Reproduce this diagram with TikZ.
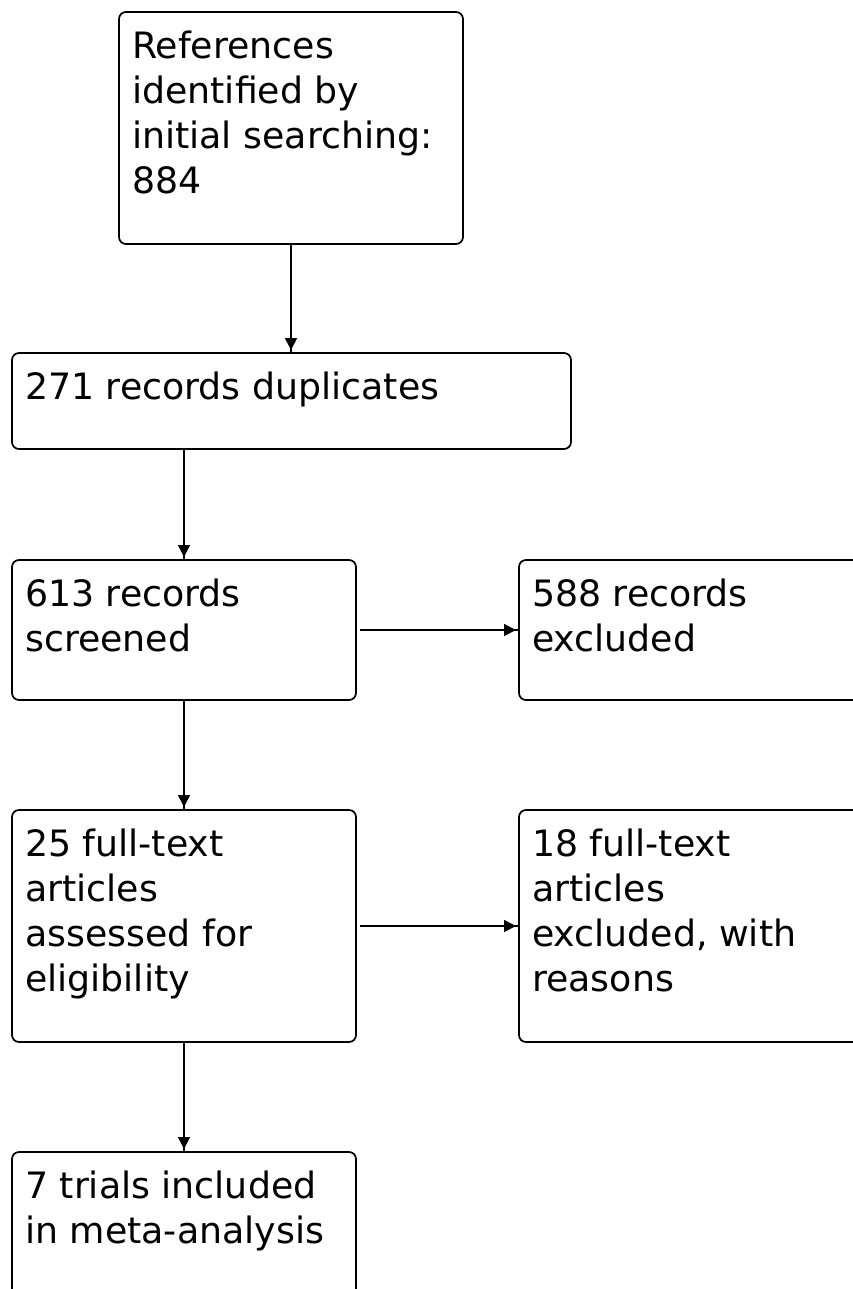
\documentclass[tikz,border=0pt]{standalone}
\usepackage{fontspec}
\setmainfont{DejaVu Sans}
\usetikzlibrary{arrows.meta}
\begin{document}
\begin{tikzpicture}[x=1pt,y=-1pt,
  box/.style={draw, line width=1.7pt, rounded corners=7pt, anchor=north west,
    inner sep=0pt, outer sep=0pt},
  txt/.style={anchor=north west, inner sep=0pt, align=left,
    font=\fontsize{36.3}{45}\selectfont},
  arr/.style={line width=1.7pt, -{Triangle[length=12pt,width=12pt] Rectangle[length=3pt,width=1.7pt]}}]
\useasboundingbox (0,0) rectangle (853,1289);
\clip (0,0) rectangle (853,1289);
% boxes
\node[box, minimum width=344pt, minimum height=232pt] (b1) at (119,12) {};
\node[box, minimum width=559pt, minimum height=96pt]  (b2) at (12,353) {};
\node[box, minimum width=344pt, minimum height=140pt] (b3) at (12,560) {};
\node[box, minimum width=400pt, minimum height=140pt] (b4) at (519,560) {};
\node[box, minimum width=344pt, minimum height=232pt] (b5) at (12,810) {};
\node[box, minimum width=400pt, minimum height=232pt] (b6) at (519,810) {};
\node[box, minimum width=344pt, minimum height=200pt] (b7) at (12,1152) {};
% texts
\node[txt] (t1) at ([shift={(13,19)}]b1.north west) {References\\identified by\\initial searching:\\884};
\node[txt] (t2) at ([shift={(13,19)}]b2.north west) {271 records duplicates};
\node[txt] (t3) at ([shift={(13,19)}]b3.north west) {613 records\\screened};
\node[txt] (t4) at ([shift={(13,19)}]b4.north west) {588 records\\excluded};
\node[txt] (t5) at ([shift={(13,19)}]b5.north west) {25 full-text\\articles\\assessed for\\eligibility};
\node[txt] (t6) at ([shift={(13,19)}]b6.north west) {18 full-text\\articles\\excluded, with\\reasons};
\node[txt] (t7) at ([shift={(13,19)}]b7.north west) {7 trials included\\in meta-analysis};
% connectors
\draw[arr] (b1.south) -- (b1.south |- b2.north);
\draw[arr] (b3.north |- b2.south) -- (b3.north);
\draw[arr] (b3.south) -- (b5.north);
\draw[arr] (b5.south) -- (b7.north);
\draw[arr, shorten <=4pt] (b3.east) -- (b3.east -| b4.west);
\draw[arr, shorten <=4pt] (b5.east) -- (b5.east -| b6.west);
\end{tikzpicture}
\end{document}
